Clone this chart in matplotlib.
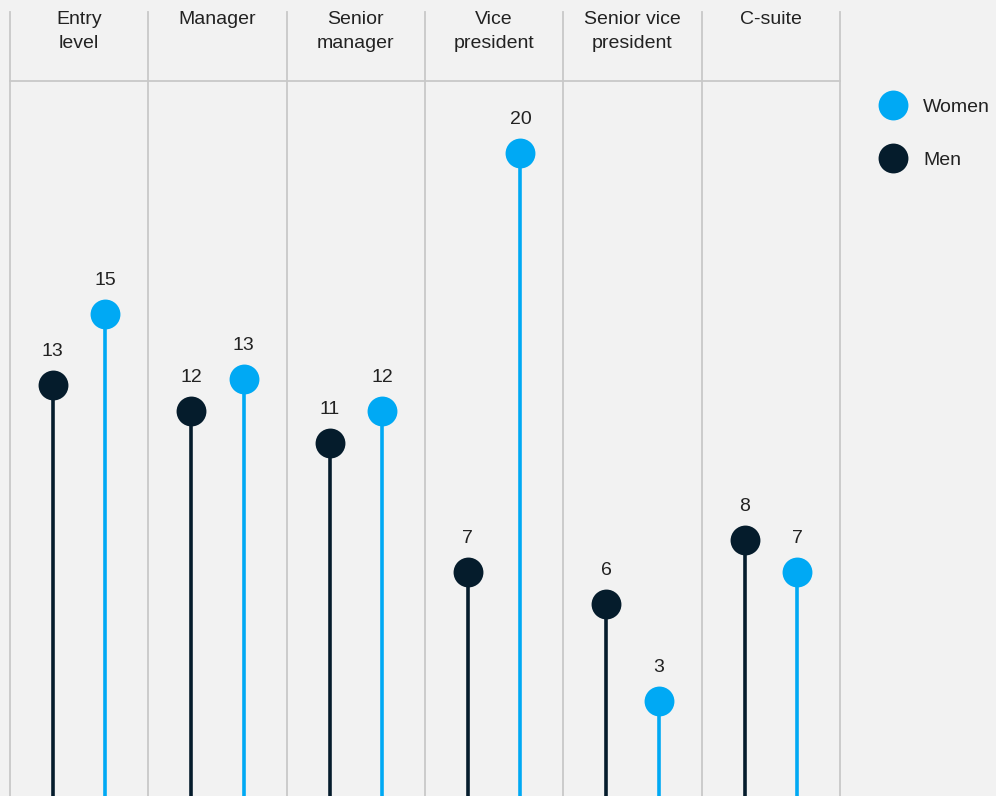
import numpy as np
import matplotlib.pyplot as plt

plt.rcParams['font.family'] = ['Liberation Sans', 'DejaVu Sans']

# data
levels = ["Entry\nlevel", "Manager", "Senior\nmanager", "Vice\npresident",
          "Senior vice\npresident", "C-suite"]
men = [12.8, 12, 11, 7, 6, 8]
women = [15, 13, 12, 20, 3, 7]
series_names = ["Women", "Men"]

BG = "#f2f2f2"
GRID = "#c8c8c8"
MEN_C = "#051c2c"
WOMEN_C = "#00a9f4"
TXT = "#222222"
FS = 14

fig = plt.figure(figsize=(9.96, 7.96), dpi=100, facecolor=BG)
ax = fig.add_axes([0, 0, 1, 1])
ax.set_facecolor(BG)
ax.set_xlim(-0.572, 6.628)
ax.set_ylim(0.053, 24.75)
ax.axis("off")

n = len(levels)
x = np.arange(n)
off = 0.19
header_y = 22.23
sep_top = 24.37

# column separators and header line
for b in np.arange(n + 1) - 0.5:
    ax.plot([b, b], [0, sep_top], color=GRID, lw=1.3, zorder=1)
ax.plot([-0.5, n - 0.5], [header_y, header_y], color=GRID, lw=1.3, zorder=1)

for i, lab in enumerate(levels):
    ax.text(x[i], 24.42, lab, ha="center", va="top", fontsize=FS, color=TXT,
            linespacing=1.55)

# lollipops
for xs, vals, c in [(x - off, men, MEN_C), (x + off, women, WOMEN_C)]:
    ax.vlines(xs, 0, vals, color=c, lw=2.6, zorder=2)
    ax.scatter(xs, vals, s=21.5 ** 2, color=c, zorder=3, linewidths=0)
    for xi, v in zip(xs, vals):
        ax.annotate(f"{round(v)}", (xi, v), xytext=(0, 24),
                    textcoords="offset points", ha="center", va="center",
                    fontsize=FS, color=TXT)

# legend
leg_x = 5.883
for name, yy, c in [(series_names[0], 21.48, WOMEN_C), (series_names[1], 19.84, MEN_C)]:
    ax.scatter([leg_x], [yy], s=21.5 ** 2, color=c, linewidths=0, zorder=3)
    ax.text(6.10, yy - 0.06, name, ha="left", va="center", fontsize=FS, color=TXT)

fig.savefig("out.png", dpi=100, facecolor=BG)
